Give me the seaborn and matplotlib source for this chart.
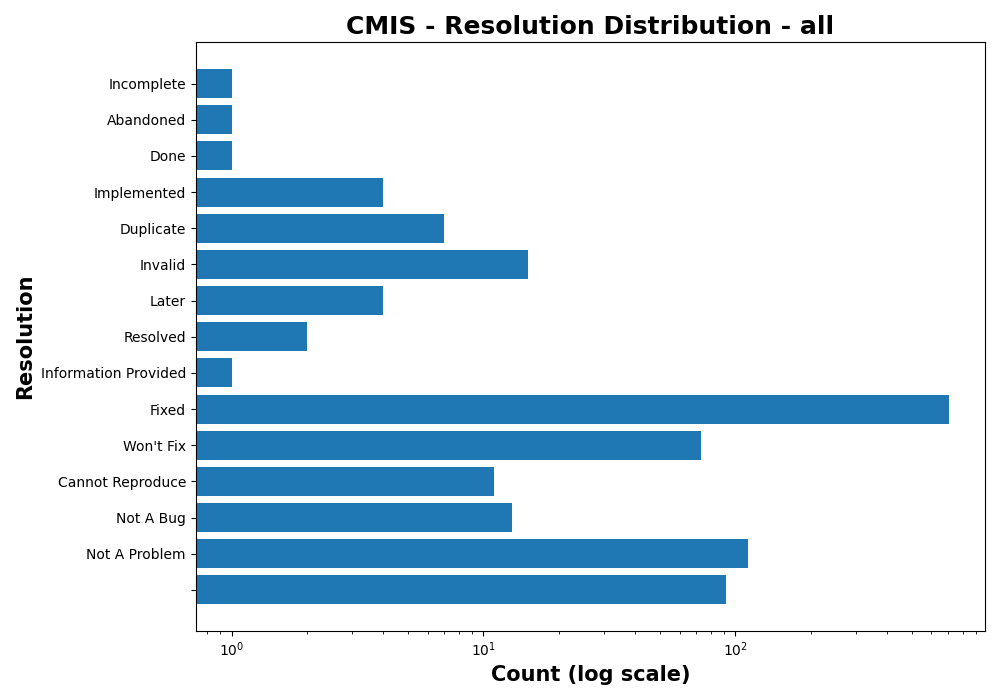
import numpy as np
import matplotlib
matplotlib.use("Agg")
import matplotlib.pyplot as plt
import seaborn as sns

# resolution categories, top to bottom as shown
resolutions = [
    "Incomplete", "Abandoned", "Done", "Implemented", "Duplicate",
    "Invalid", "Later", "Resolved", "Information Provided", "Fixed",
    "Won't Fix", "Cannot Reproduce", "Not A Bug", "Not A Problem", "",
]
counts = [1, 1, 1, 4, 7, 15, 4, 2, 1, 705, 73, 11, 13, 112, 92]

fig, ax = plt.subplots(figsize=(10, 7))
sns.barplot(x=counts, y=resolutions, orient="h", color="#1f77b4",
            saturation=1, width=0.8, ax=ax)
ax.set_xscale("log")

# mimic matplotlib's default 5% margins in log space
lo, hi = np.log10(min(counts)), np.log10(max(counts))
pad = 0.05 * (hi - lo)
ax.set_xlim(10 ** (lo - pad), 10 ** (hi + pad))
n = len(resolutions)
ypad = 0.05 * (n - 1 + 0.8)
ax.set_ylim(n - 1 + 0.4 + ypad, -0.4 - ypad)

for s in ax.spines.values():
    s.set_visible(True)
    s.set_color("black")

ax.set_title("CMIS - Resolution Distribution - all", fontsize=18, fontweight="bold")
ax.set_xlabel("Count (log scale)", fontsize=15, fontweight="bold")
ax.set_ylabel("Resolution", fontsize=15, fontweight="bold")

plt.tight_layout()
plt.savefig("out.png", dpi=100)
